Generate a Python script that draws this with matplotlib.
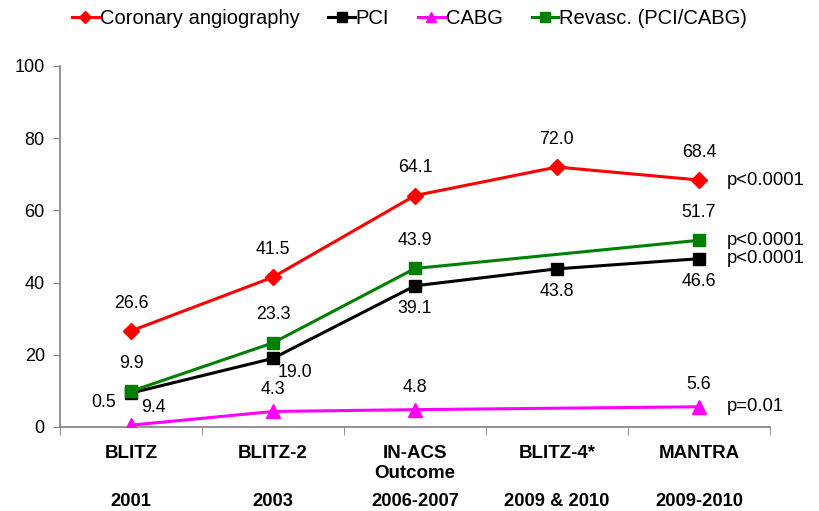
import matplotlib
matplotlib.use("Agg")
import matplotlib.pyplot as plt
import numpy as np
from matplotlib.transforms import blended_transform_factory

studies = ["BLITZ", "BLITZ-2", "IN-ACS\nOutcome", "BLITZ-4*", "MANTRA"]
years = ["2001", "2003", "2006-2007", "2009 & 2010", "2009-2010"]

angio = [26.6, 41.5, 64.1, 72.0, 68.4]
pci = [9.4, 19.0, 39.1, 43.8, 46.6]
cabg = [0.5, 4.3, 4.8, None, 5.6]
revasc = [9.9, 23.3, 43.9, None, 51.7]
pvals = ["p<0.0001", "p<0.0001", "p=0.01", "p<0.0001"]  # angio, pci, cabg, revasc

plt.rcParams['font.family'] = ['Liberation Sans', 'DejaVu Sans']

fig = plt.figure(figsize=(8.19, 5.11), dpi=100)
ax = fig.add_axes([0.0733, 0.1644, 0.8667, 0.7066])

x = np.arange(len(studies))

def xy(vals):
    xs = [i for i, v in enumerate(vals) if v is not None]
    ys = [v for v in vals if v is not None]
    return np.array(xs), np.array(ys)

red = "#ff0000"
blk = "#000000"
mag = "#ff00ff"
grn = "#008000"

xa, ya = xy(angio)
ax.plot(xa, ya, color=red, lw=2.2, marker="D", ms=8, label="Coronary angiography", zorder=4)
xp, yp = xy(pci)
ax.plot(xp, yp, color=blk, lw=2.2, marker="s", ms=9, label="PCI", zorder=3)
xc, yc = xy(cabg)
ax.plot(xc, yc, color=mag, lw=2.2, marker="^", ms=10, label="CABG", zorder=3)
xr, yr = xy(revasc)
ax.plot(xr, yr, color=grn, lw=2.2, marker="s", ms=9, label="Revasc. (PCI/CABG)", zorder=4)

fs = 12.8
# labels
for xi, yi in zip(xa, ya):
    ax.annotate(f"{yi:.1f}", (xi, yi), xytext=(0, 14), textcoords="offset points",
                ha="center", va="bottom", fontsize=fs)
for xi, yi in zip(xr, yr):
    ax.annotate(f"{yi:.1f}", (xi, yi), xytext=(0, 14), textcoords="offset points",
                ha="center", va="bottom", fontsize=fs)
pci_off = [(16, -4), (16, -4), (0, -10), (0, -10), (0, -10)]
for (xi, yi), off in zip(zip(xp, yp), pci_off):
    ax.annotate(f"{yi:.1f}", (xi, yi), xytext=off, textcoords="offset points",
                ha="center", va="top", fontsize=fs)
cabg_off = [(-20, 10), (0, 10), (0, 10), (0, 10)]
for (xi, yi), off in zip(zip(xc, yc), cabg_off):
    ax.annotate(f"{yi:.1f}", (xi, yi), xytext=off, textcoords="offset points",
                ha="center", va="bottom", fontsize=fs)

# p-values
last = len(studies) - 1
for val, p in zip([angio[last], pci[last], cabg[last], revasc[last]], pvals):
    ax.annotate(p, (last, val), xytext=(20, 0), textcoords="offset points",
                ha="left", va="center", fontsize=13.3, annotation_clip=False)

ax.set_xlim(-0.5, len(studies) - 0.5)
ax.set_ylim(0, 100)
ax.set_yticks(np.arange(0, 101, 20))
ax.tick_params(axis="y", labelsize=13, length=5, color="#808080", pad=6)

ax.set_xticks(x)
ax.set_xticklabels(studies, fontsize=13.5, fontweight="bold", linespacing=1.2)
ax.tick_params(axis="x", length=0, pad=13)
ax.set_xticks(np.arange(-0.5, len(studies), 1), minor=True)
ax.tick_params(axis="x", which="minor", length=6, color="#808080")

trans = blended_transform_factory(ax.transData, ax.transAxes)
for xi, yr_ in zip(x, years):
    ax.text(xi, -0.205, yr_, transform=trans, ha="center", va="center",
            fontsize=13.2, fontweight="bold")

for s in ["top", "right"]:
    ax.spines[s].set_visible(False)
for s in ["left", "bottom"]:
    ax.spines[s].set_color("#808080")
    ax.spines[s].set_linewidth(1.2)

leg = fig.legend(loc="upper center", bbox_to_anchor=(0.5, 1.018), ncol=4, frameon=False,
                 fontsize=14.5, handlelength=1.3, handletextpad=0.05, columnspacing=1.45,
                 markerscale=0.75)

fig.savefig("out.png", dpi=100)
